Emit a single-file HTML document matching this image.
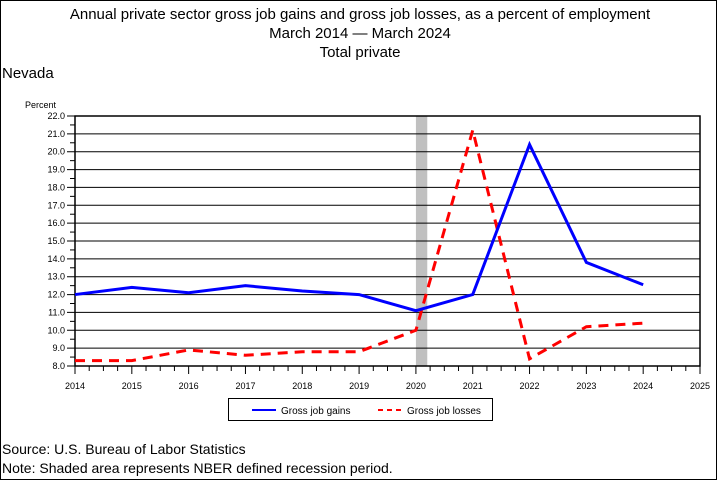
<!DOCTYPE html>
<html><head><meta charset="utf-8"><style>
body{margin:0;background:#fff;}
svg text{font-family:"Liberation Sans",sans-serif;}
</style></head><body>
<svg width="720" height="480" viewBox="0 0 720 480" id="c">
<rect x="0.5" y="0.5" width="716" height="479" fill="#fff" stroke="#000"/>
<text x="360" y="19" text-anchor="middle" font-size="15">Annual private sector gross job gains and gross job losses, as a percent of employment</text>
<text x="360" y="38" text-anchor="middle" font-size="15">March 2014 — March 2024</text>
<text x="360" y="57" text-anchor="middle" font-size="15">Total private</text>
<text x="2" y="78" font-size="15">Nevada</text>
<text x="25" y="108" font-size="9">Percent</text>
<g id="plot"></g>
<rect x="228.5" y="398.5" width="264" height="22" fill="none" stroke="#000"/>
<line x1="252" y1="410" x2="276" y2="410" stroke="#00f" stroke-width="2"/>
<text x="281" y="414" font-size="10">Gross job gains</text>
<line x1="378" y1="410" x2="402" y2="410" stroke="#f00" stroke-width="2" stroke-dasharray="5,4"/>
<text x="407" y="414" font-size="10">Gross job losses</text>
<text x="2" y="454" font-size="14">Source: U.S. Bureau of Labor Statistics</text>
<text x="2" y="473" font-size="14">Note: Shaded area represents NBER defined recession period.</text>
</svg>
<script>
const years=[2014,2015,2016,2017,2018,2019,2020,2021,2022,2023,2024];
const xTicks=[2014,2015,2016,2017,2018,2019,2020,2021,2022,2023,2024,2025];
const gains=[12.0,12.4,12.1,12.5,12.2,12.0,11.1,12.0,20.4,13.8,12.55];
const losses=[8.3,8.3,8.9,8.6,8.8,8.8,10.0,21.2,8.4,10.2,10.4];
const yTicks=[8,9,10,11,12,13,14,15,16,17,18,19,20,21,22];
const recession=[2020,2020.2];
const L=75,R=700,T=116,B=366;
const x=v=>L+(v-2014)/11*(R-L);
const y=v=>B-(v-8)/14*(B-T);
const g=document.getElementById('plot');
const NS='http://www.w3.org/2000/svg';
function mk(t,a){const e=document.createElementNS(NS,t);for(const k in a)e.setAttribute(k,a[k]);g.appendChild(e);return e;}
let r=mk('rect',{x:x(recession[0]),y:T,width:x(recession[1])-x(recession[0]),height:B-T,fill:'#c0c0c0'});


yTicks.forEach(v=>{
 let l=mk('line',{x1:L-8,x2:R,y1:y(v),y2:y(v),stroke:'#000','stroke-width':1});
 
 
 if(v<22){let m=mk('line',{x1:L-5,x2:L,y1:y(v+0.5),y2:y(v+0.5),stroke:'#000'});
 
 }
 let t=mk('text',{x:L-10,y:y(v)+3,'text-anchor':'end','font-size':9});
 t.textContent=v.toFixed(1);
 
 
});
let ax=mk('rect',{x:L,y:T,width:R-L,height:B-T,fill:'none',stroke:'#000','stroke-width':1.5});


xTicks.forEach((v,i)=>{
 let l=mk('line',{x1:x(v),x2:x(v),y1:B,y2:B+8,stroke:'#000'});
 
 
 if(i<xTicks.length-1)for(let q=1;q<4;q++){let m=mk('line',{x1:x(v+q/4),x2:x(v+q/4),y1:B,y2:B+5,stroke:'#000'});
 
 }
 let t=mk('text',{x:x(v),y:B+23,'text-anchor':'middle','font-size':9});
 t.textContent=v;
 
 
});
const pts=a=>a.map((v,i)=>x(years[i])+','+y(v)).join(' ');
let pl=mk('polyline',{points:pts(losses),fill:'none',stroke:'#f00','stroke-width':3,'stroke-dasharray':'10,7'});


let pg=mk('polyline',{points:pts(gains),fill:'none',stroke:'#00f','stroke-width':3});


</script>
</body></html>
